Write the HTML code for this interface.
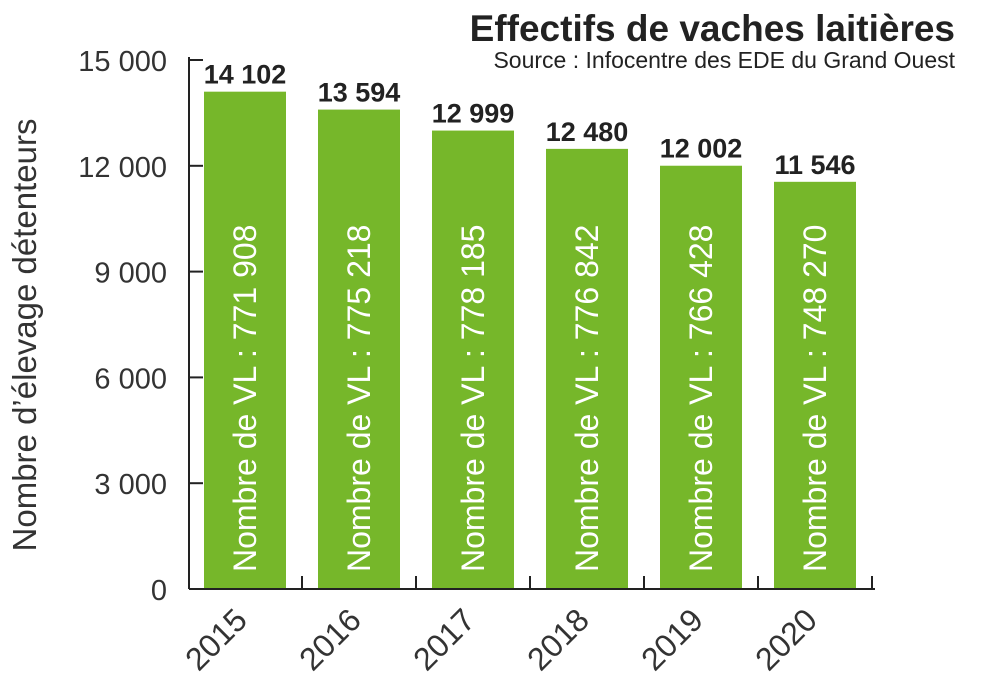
<!DOCTYPE html>
<html><head><meta charset="utf-8"><style>
body{margin:0;background:#fff;}
svg{display:block;font-family:"Liberation Sans",sans-serif;}
</style></head><body>
<svg width="1000" height="691" viewBox="0 0 1000 691">
<text x="955" y="41" text-anchor="end" font-size="37" font-weight="bold" fill="#222">Effectifs de vaches laitières</text>
<text x="955" y="68" text-anchor="end" font-size="23" fill="#222">Source : Infocentre des EDE du Grand Ouest</text>
<text transform="translate(36,335) rotate(-90)" text-anchor="middle" font-size="33" fill="#333">Nombre d’élevage détenteurs</text>
<g id="plot"></g>
</svg>
<script>
const categories=["2015","2016","2017","2018","2019","2020"];
const farms=[14102,13594,12999,12480,12002,11546];
const cows=["771 908","775 218","778 185","776 842","766 428","748 270"];
const farmLabels=["14 102","13 594","12 999","12 480","12 002","11 546"];
const yTicks=[0,3000,6000,9000,12000,15000];
const yTickLabels=["0","3 000","6 000","9 000","12 000","15 000"];

const NS="http://www.w3.org/2000/svg";
const g=document.getElementById('plot');
const x0=189,x1=875,yBase=589,yTop=60,yMax=15000;
const step=114,bw=82,firstBar=204;
const y=v=>yBase-(v/yMax)*(yBase-yTop);
const xb=i=>firstBar+i*step;
function mk(tag,attrs){const e=document.createElementNS(NS,tag);for(const k in attrs)e.setAttribute(k,attrs[k]);g.appendChild(e);return e;}

yTicks.forEach((t,i)=>{
  const yy=y(t);
  if(t>0){const tk=mk('line',{x1:x0,x2:x0+14,y1:yy,y2:yy,stroke:'#222','stroke-width':2});
  
  }
  const lb=mk('text',{x:167,y:yy+11,'text-anchor':'end','font-size':29,fill:'#333'});
  lb.textContent=yTickLabels[i];
  
  
});
const ya=mk('line',{x1:x0,x2:x0,y1:y(15000)-3,y2:yBase,stroke:'#222','stroke-width':2});



categories.forEach((c,i)=>{
  const bx=xb(i),by=y(farms[i]);
  const r=mk('rect',{x:bx,y:by,width:bw,height:yBase-by,fill:'#76b72a'});
  
  
  const v=mk('text',{x:bx+bw/2,y:by-8,'text-anchor':'middle','font-size':27,'font-weight':'bold',fill:'#222'});
  v.textContent=farmLabels[i];
  
  
  const cx=bx+bw/2+11;
  const t=mk('text',{transform:`translate(${cx},572) rotate(-90)`,'font-size':32,fill:'#fff'});
  t.textContent='Nombre de VL : '+cows[i];
  
  
  const xl=mk('text',{transform:`translate(${bx+bw/2+4},622) rotate(-45)`,'text-anchor':'end','font-size':32,fill:'#333'});
  xl.textContent=c;
  
  
  const tx=bx+bw+(step-bw)/2;
  const tk=mk('line',{x1:tx,x2:tx,y1:yBase,y2:yBase-13,stroke:'#222','stroke-width':2});
  
  
});
const xa=mk('line',{x1:x0,x2:x1,y1:yBase,y2:yBase,stroke:'#222','stroke-width':2});


</script>
</body></html>
